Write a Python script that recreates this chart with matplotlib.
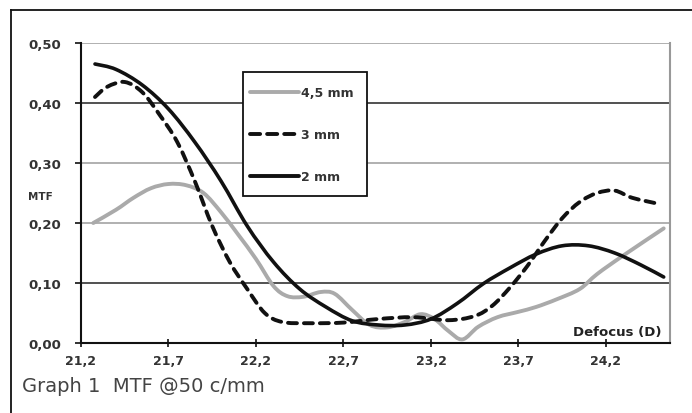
import matplotlib
matplotlib.use("Agg")
import matplotlib.pyplot as plt
from matplotlib.lines import Line2D
from matplotlib.path import Path
from matplotlib.patches import PathPatch, Rectangle
import numpy as np

# Data
x_2mm = [21.28, 21.40, 21.55, 21.70, 21.85, 22.00, 22.15, 22.30, 22.45, 22.60, 22.75, 22.90,
         23.05, 23.20, 23.35, 23.50, 23.65, 23.80, 23.95, 24.10, 24.25, 24.40, 24.53]
y_2mm = [0.465, 0.456, 0.430, 0.390, 0.335, 0.270, 0.195, 0.135, 0.090, 0.060, 0.037, 0.030,
         0.030, 0.040, 0.066, 0.099, 0.125, 0.148, 0.162, 0.162, 0.150, 0.130, 0.110]

x_3mm = [21.28, 21.35, 21.45, 21.55, 21.65, 21.75, 21.85, 21.95, 22.05, 22.15, 22.25, 22.35,
         22.50, 22.70, 22.90, 23.10, 23.30, 23.45, 23.55, 23.65, 23.75, 23.85, 23.95, 24.05,
         24.15, 24.25, 24.35, 24.50]
y_3mm = [0.410, 0.427, 0.435, 0.418, 0.380, 0.335, 0.270, 0.195, 0.135, 0.090, 0.050, 0.035,
         0.033, 0.034, 0.040, 0.043, 0.038, 0.045, 0.062, 0.092, 0.128, 0.170, 0.208, 0.235,
         0.250, 0.254, 0.242, 0.232]

x_45mm = [21.27, 21.40, 21.50, 21.60, 21.70, 21.80, 21.90, 22.00, 22.10, 22.20, 22.30, 22.38,
          22.47, 22.57, 22.65, 22.75, 22.85, 22.95, 23.05, 23.14, 23.22, 23.30, 23.38, 23.47,
          23.58, 23.70, 23.80, 23.92, 24.05, 24.15, 24.30, 24.53]
y_45mm = [0.200, 0.222, 0.242, 0.258, 0.265, 0.263, 0.250, 0.218, 0.180, 0.140, 0.095, 0.078,
          0.077, 0.085, 0.082, 0.055, 0.030, 0.026, 0.035, 0.048, 0.040, 0.020, 0.006, 0.027,
          0.043, 0.052, 0.060, 0.073, 0.090, 0.115, 0.146, 0.191]

x_ticks = [21.2, 21.7, 22.2, 22.7, 23.2, 23.7, 24.2]
x_tick_labels = ["21,2", "21,7", "22,2", "22,7", "23,2", "23,7", "24,2"]
y_ticks = [0.0, 0.1, 0.2, 0.3, 0.4, 0.5]
y_tick_labels = ["0,00", "0,10", "0,20", "0,30", "0,40", "0,50"]
series_labels = ["4,5 mm", "3 mm", "2 mm"]


def smooth_path(xs, ys):
    """Bezier path through the given points (Catmull-Rom style, like a spreadsheet's smoothed line)."""
    p = np.column_stack([xs, ys]).astype(float)
    n = len(p)
    verts = [p[0]]
    codes = [Path.MOVETO]
    for i in range(n - 1):
        p0 = p[i - 1] if i > 0 else p[i]
        p1 = p[i]
        p2 = p[i + 1]
        p3 = p[i + 2] if i + 2 < n else p[i + 1]
        c1 = p1 + (p2 - p0) / 6.0
        c2 = p2 - (p3 - p1) / 6.0
        verts += [c1, c2, p2]
        codes += [Path.CURVE4] * 3
    return Path(verts, codes)


W, H = 692, 414
fig = plt.figure(figsize=(W / 100, H / 100), dpi=100)
fig.patch.set_facecolor("white")

ax = fig.add_axes([81 / W, 1 - 344 / H, (670 - 81) / W, (344 - 44) / H])
ax.set_xlim(21.2, 24.566)
ax.set_ylim(0, 0.5)

# gridlines
grid_cols = {0.1: "#222222", 0.2: "#aaaaaa", 0.3: "#aaaaaa", 0.4: "#222222", 0.5: "#aaaaaa"}
for yv, c in grid_cols.items():
    ax.axhline(yv, color=c, lw=1.3 if c == "#aaaaaa" else 1.1, zorder=1)

gray_c = "#aaaaaa"
dark_c = "#111111"
dash_style = (0, (2.3, 1.8))

ax.add_patch(PathPatch(smooth_path(x_45mm, y_45mm), fill=False, edgecolor=gray_c, lw=2.8,
                       capstyle="round", joinstyle="round", zorder=3))
ax.add_patch(PathPatch(smooth_path(x_3mm, y_3mm), fill=False, edgecolor=dark_c, lw=2.8,
                       linestyle=dash_style, capstyle="round", zorder=4))
ax.add_patch(PathPatch(smooth_path(x_2mm, y_2mm), fill=False, edgecolor=dark_c, lw=2.6,
                       capstyle="round", joinstyle="round", zorder=5))

h45 = Line2D([], [], color=gray_c, lw=2.8, solid_capstyle="round")
h3 = Line2D([], [], color=dark_c, lw=2.8, linestyle=(0, (2.6, 1.8)), dash_capstyle="round")
h2 = Line2D([], [], color=dark_c, lw=2.8, solid_capstyle="round")

ax.spines["top"].set_visible(False)
ax.spines["right"].set_color("#999999")
ax.spines["right"].set_linewidth(1.5)
for s in ["left", "bottom"]:
    ax.spines[s].set_color("#111111")
    ax.spines[s].set_linewidth(1.5)

ax.set_xticks(x_ticks)
ax.set_xticklabels(x_tick_labels)
ax.set_yticks(y_ticks)
ax.set_yticklabels(y_tick_labels)
ax.tick_params(axis="x", direction="inout", length=6, width=1.2, colors="#111111",
               labelsize=9, pad=5)
ax.tick_params(axis="y", direction="out", length=4, width=1.2, colors="#111111",
               labelsize=9.5, pad=10)
for lab in ax.get_xticklabels() + ax.get_yticklabels():
    lab.set_fontweight("bold")
    lab.set_color("#333333")

fig.text(28 / W, 1 - 197 / H, "MTF", fontsize=7.5, fontweight="bold", color="#333333",
         va="center", ha="left")
ax.text(0.985, 0.018, "Defocus (D)", transform=ax.transAxes, fontsize=9.5,
        fontweight="bold", color="#222222", ha="right", va="bottom")

# legend box (inside the axes' draw order, below the legend entries)
box = Rectangle((243 / W, 1 - 197 / H), (367 - 243) / W, (197 - 73) / H,
                transform=fig.transFigure, fill=True, facecolor="white",
                edgecolor="#111111", lw=1.3, zorder=6, clip_on=False)
ax.add_artist(box)
leg = ax.legend(handles=[h45, h3, h2], labels=series_labels, loc="upper left",
                bbox_to_anchor=(250 / W, 1 - 87 / H), bbox_transform=fig.transFigure,
                frameon=False, fontsize=9, handlelength=3.9, labelspacing=2.33,
                borderpad=0, handletextpad=0.2, borderaxespad=0)
leg.set_zorder(7)
for t in leg.get_texts():
    t.set_fontweight("bold")
    t.set_color("#333333")

# outer frame (open on right/bottom)
fig.add_artist(Line2D([11 / W, 11 / W], [0, 1 - 11 / H], transform=fig.transFigure,
                      color="#111111", lw=1.3))
fig.add_artist(Line2D([11 / W, 1], [1 - 11 / H, 1 - 11 / H], transform=fig.transFigure,
                      color="#111111", lw=1.3))

fig.text(22 / W, 1 - 387 / H, "Graph 1  MTF @50 c/mm", fontsize=14, color="#444444",
         family="Liberation Sans Narrow", va="center", ha="left")

fig.savefig("out.png", dpi=100)
